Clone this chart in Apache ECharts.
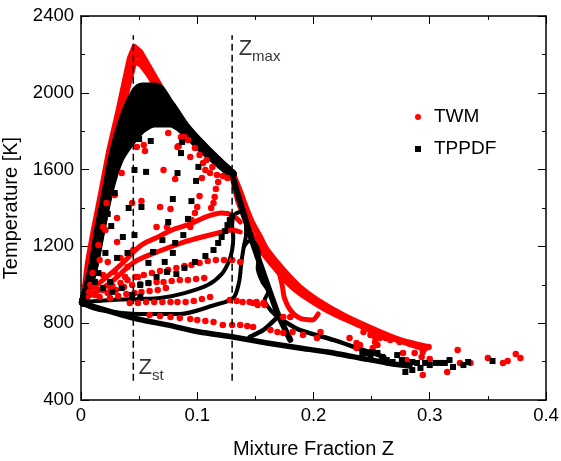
<!DOCTYPE html>
<html><head><meta charset="utf-8">
<script src="https://cdn.jsdelivr.net/npm/echarts@6/dist/echarts.min.js"></script>
<style>html,body{margin:0;padding:0;background:#fff}#c{width:561px;height:461px}</style>
</head><body><div id="c"></div>
<script>
const FONT = '"Liberation Sans", Arial, Helvetica, sans-serif';
const xTicks = [0, 0.1, 0.2, 0.3, 0.4];
const yTicks = [400, 800, 1200, 1600, 2000, 2400];
const legendNames = ['TWM', 'TPPDF'];

// ---- TWM (red) dense trajectories ----
const twmEnvA = [[0.002,921],[0.006,1119],[0.011,1285],[0.017,1468],[0.024,1692],[0.032,1900],[0.037,2041],[0.042,2181],[0.046,2239],[0.051,2213],[0.059,2129],[0.068,2035],[0.077,1947],[0.087,1858]];
const twmEnvM = [[0.003,921],[0.008,1119],[0.013,1285],[0.019,1468],[0.026,1692],[0.034,1900],[0.039,2030],[0.043,2150],[0.046,2202],[0.052,2181],[0.059,2108],[0.068,2015]];
const twmEnvB = [[0.005,921],[0.009,1119],[0.015,1285],[0.021,1468],[0.028,1692],[0.035,1900],[0.040,2025],[0.044,2119],[0.046,2166],[0.052,2145],[0.059,2088],[0.066,2015]];
const twmRight1 = [[0.130,1588],[0.137,1483],[0.141,1416],[0.147,1327],[0.154,1249],[0.160,1181],[0.174,1077],[0.188,989],[0.203,921],[0.225,843],[0.249,775],[0.274,713],[0.298,676]];
const twmRight2 = [[0.131,1546],[0.135,1442],[0.141,1348],[0.148,1249],[0.156,1171],[0.167,1088],[0.180,999],[0.193,937],[0.210,874],[0.231,812],[0.257,744],[0.283,692],[0.296,666]];
const twmLoop = [[0.152,1249],[0.161,1155],[0.169,1088],[0.173,999],[0.175,931],[0.180,869],[0.188,827],[0.199,817],[0.204,848]];
const twmFanA = [[0.006,963],[0.021,1035],[0.034,1103],[0.052,1207],[0.068,1254],[0.078,1285],[0.094,1317],[0.107,1353],[0.121,1374],[0.130,1364],[0.137,1327]];
const twmFanB = [[0.006,937],[0.025,1009],[0.046,1119],[0.070,1181],[0.089,1223],[0.104,1249],[0.118,1270],[0.130,1285],[0.137,1275]];

// ---- TWM (red) scattered points ----
const twmUpper = [[0.075,1791],[0.086,1770],[0.084,1723],[0.055,1697],[0.054,1728],[0.048,1718],[0.035,1582],[0.071,1598],[0.081,1551],[0.105,1634],[0.107,1598],[0.104,1556],[0.094,1666],[0.117,1572],[0.118,1535],[0.116,1499],[0.115,1457],[0.114,1426],[0.112,1400],[0.102,1462],[0.100,1405],[0.098,1374],[0.095,1337],[0.094,1301],[0.052,1436],[0.044,1426],[0.068,1405],[0.077,1395],[0.031,1348],[0.065,1301],[0.074,1301],[0.019,1301],[0.029,1468],[0.022,1426],[0.083,1718],[0.089,1770],[0.126,1556],[0.122,1567],[0.111,1582]];
const twmEdge = [[0.092,1754],[0.098,1712],[0.102,1676],[0.108,1650],[0.113,1614]];
const twmWedge = [[0.021,1285],[0.031,1223],[0.015,1207],[0.023,1119],[0.016,1129],[0.010,1061],[0.019,1051],[0.029,1067],[0.025,989],[0.038,1041],[0.049,1041],[0.015,973],[0.040,1093],[0.008,999],[0.034,1140],[0.045,1181]];
const twmRowC = [[0.012,947],[0.019,973],[0.027,994],[0.034,1009],[0.040,1025],[0.047,1041],[0.054,1051],[0.061,1061],[0.068,1072],[0.075,1077],[0.082,1088],[0.089,1098],[0.095,1103],[0.102,1114],[0.109,1124],[0.116,1129],[0.123,1129],[0.130,1129],[0.137,1119]];
const twmRowD = [[0.016,937],[0.023,957],[0.030,973],[0.037,989],[0.044,999],[0.051,1004],[0.058,1009],[0.065,1015],[0.071,1015],[0.078,1020],[0.085,1025],[0.092,1025],[0.099,1030],[0.106,1035]];
const twmRowE = [[0.025,931],[0.032,942],[0.039,952],[0.046,957],[0.052,963],[0.059,968],[0.066,973],[0.073,983]];
const twmRowF = [[0.042,905],[0.049,905],[0.056,910],[0.063,910],[0.070,910],[0.077,910],[0.083,910],[0.090,910],[0.097,916],[0.104,926],[0.111,937],[0.128,921],[0.134,916],[0.139,910],[0.145,910],[0.151,910]];
const twmRowG = [[0.059,843],[0.068,838],[0.077,832],[0.085,827],[0.094,822],[0.100,817],[0.107,812],[0.114,806],[0.122,791],[0.130,791],[0.137,791],[0.143,785],[0.148,780]];
const twmTail = [[0.148,905],[0.152,895],[0.157,905],[0.174,832],[0.163,765],[0.169,754],[0.174,749],[0.182,754],[0.191,739],[0.203,723],[0.231,723],[0.237,697],[0.158,895],[0.180,832],[0.206,754],[0.243,754],[0.249,739],[0.253,728],[0.257,723],[0.262,723],[0.266,713],[0.253,702],[0.255,687],[0.274,702],[0.283,692],[0.292,681],[0.299,676],[0.277,645],[0.287,645],[0.294,650],[0.293,624],[0.324,660],[0.300,613],[0.315,546],[0.294,530],[0.326,593],[0.335,593],[0.350,619],[0.363,593],[0.367,603],[0.374,639],[0.378,619],[0.240,687],[0.237,671],[0.251,671],[0.280,608]];

// ---- TPPDF (black) dense trajectories ----
const tpBand1 = [[0.002,910],[0.0095,1077],[0.0151,1285],[0.0219,1494],[0.0267,1650],[0.0328,1795],[0.0422,1952],[0.0525,2030],[0.0637,2030],[0.0766,1942],[0.0895,1827],[0.1024,1739],[0.1153,1660],[0.130,1577]];
const tpBand2 = [[0.002,910],[0.0096,1077],[0.0155,1285],[0.0225,1494],[0.0279,1650],[0.0347,1784],[0.0422,1911],[0.0525,1986],[0.0637,1993],[0.0766,1922],[0.0895,1821],[0.1024,1734],[0.1153,1658],[0.130,1577]];
const tpBand3 = [[0.002,910],[0.0098,1077],[0.0159,1285],[0.0230,1494],[0.0291,1650],[0.0365,1773],[0.0422,1871],[0.0525,1943],[0.0637,1955],[0.0766,1902],[0.0895,1815],[0.1024,1730],[0.1153,1656],[0.130,1577]];
const tpBand4 = [[0.002,910],[0.0100,1077],[0.0163,1285],[0.0235,1494],[0.0303,1650],[0.0384,1761],[0.0422,1830],[0.0525,1899],[0.0637,1918],[0.0766,1882],[0.0895,1808],[0.1024,1726],[0.1153,1654],[0.130,1577]];
const tpBand5 = [[0.002,910],[0.0102,1077],[0.0168,1285],[0.0240,1494],[0.0315,1650],[0.0402,1751],[0.0422,1790],[0.0525,1855],[0.0637,1880],[0.0766,1862],[0.0895,1802],[0.1024,1722],[0.1153,1652],[0.130,1577]];
const tpBand6 = [[0.002,910],[0.0103,1077],[0.0172,1285],[0.0245,1494],[0.0327,1650],[0.0421,1739],[0.0525,1811],[0.0637,1843],[0.0766,1843],[0.0895,1796],[0.1024,1718],[0.1153,1650],[0.130,1577]];
const tpRight = [[0.130,1577],[0.135,1468],[0.141,1348],[0.147,1233],[0.152,1145],[0.158,1041],[0.164,937],[0.169,853],[0.175,775],[0.180,713]];
const tpLow = [[0.001,905],[0.045,827],[0.074,791],[0.102,754],[0.131,728],[0.160,697],[0.188,671],[0.212,650],[0.240,619],[0.263,593],[0.283,577]];
const tpV1 = [[0.169,832],[0.188,765],[0.217,713],[0.240,666],[0.261,624]];
const tpV2 = [[0.169,832],[0.157,765],[0.145,728]];
const tpK3 = [[0.003,910],[0.027,921],[0.051,926],[0.068,931],[0.089,957],[0.109,999],[0.121,1056],[0.127,1119],[0.130,1181],[0.131,1249],[0.130,1311],[0.132,1364],[0.137,1379],[0.141,1353],[0.142,1306]];
const tpK4 = [[0.142,1306],[0.142,1265],[0.140,1197],[0.138,1119],[0.136,1015],[0.131,931],[0.115,895],[0.085,848],[0.051,848],[0.016,869],[0.003,895]];
const tpK6 = [[0.140,1197],[0.145,1228],[0.150,1213],[0.153,1155],[0.152,1088],[0.156,1015],[0.161,963],[0.158,921],[0.163,869],[0.169,832]];

// ---- TPPDF (black) scattered points ----
const tpInner = [[0.050,1759],[0.060,1749],[0.087,1744],[0.086,1686],[0.046,1598],[0.056,1588],[0.083,1582],[0.099,1541],[0.101,1614],[0.079,1447],[0.095,1436],[0.041,1400],[0.052,1405],[0.075,1327],[0.092,1343],[0.023,1369],[0.029,1478],[0.026,1306],[0.031,1634]];
const tpWedge = [[0.046,1259],[0.036,1249],[0.021,1166],[0.031,1140],[0.040,1166],[0.058,1114],[0.062,1171],[0.072,1119],[0.079,1166],[0.081,1218],[0.088,1259],[0.070,1233],[0.065,1041],[0.074,1067],[0.051,999],[0.058,1009],[0.044,947],[0.051,937],[0.035,983],[0.025,1015],[0.015,1061],[0.012,1015],[0.019,983],[0.027,963]];
const tpDiag = [[0.082,1056],[0.089,1088],[0.098,1119],[0.107,1150],[0.114,1181],[0.118,1218],[0.121,1249],[0.124,1280],[0.126,1311],[0.128,1337],[0.130,1358]];
const tpTail = [[0.242,645],[0.246,645],[0.250,650],[0.255,645],[0.259,624],[0.263,608],[0.268,598],[0.272,634],[0.276,608],[0.280,582],[0.285,598],[0.289,593],[0.279,546],[0.285,556],[0.292,567],[0.296,593],[0.300,582],[0.305,593],[0.309,593],[0.313,593],[0.317,608],[0.320,572],[0.329,582],[0.333,598],[0.354,603],[0.249,624]];

// ---- reference lines & labels ----
const zstLine = [[0.045,500],[0.045,2300]];
const zmaxLine = [[0.13,500],[0.13,2300]];
const zmaxLabelAt = [[0.1352,2218]];
const zstLabelAt = [[0.049,556]];

const RED = '#ff0000', BLK = '#000000';
function lineS(name, data, color, width, z, smooth) {
  return {type:'line', name:name, data:data, showSymbol:false, symbol:'none', smooth:smooth||0,
    lineStyle:{color:color, width:width, join:'round', cap:'round', opacity:1}, itemStyle:{color:color}, z:z, silent:true, animation:false};
}
const series = [
  {type:'scatter', name:'TWM', symbol:'circle', symbolSize:6.5, itemStyle:{color:RED, opacity:1}, z:4, animation:false,
    data:[].concat(twmUpper, twmEdge, twmWedge, twmRowC, twmRowD, twmRowE, twmRowF, twmRowG, twmTail)},
  {type:'scatter', name:'TPPDF', symbol:'rect', symbolSize:6, itemStyle:{color:BLK, opacity:1}, z:5, animation:false,
    data:[].concat(tpInner, tpWedge, tpDiag, tpTail)},
  lineS('twmA', twmEnvA, RED, 6, 2), lineS('twmM', twmEnvM, RED, 6, 2), lineS('twmB', twmEnvB, RED, 6, 2),
  lineS('twmR1', twmRight1, RED, 6, 2, 0.3), lineS('twmR2', twmRight2, RED, 6, 2, 0.3), lineS('twmL', twmLoop, RED, 5, 2, 0.3),
  lineS('twmFA', twmFanA, RED, 5, 4, 0.3), lineS('twmFB', twmFanB, RED, 5, 4, 0.3),
  lineS('tp1', tpBand1, BLK, 9, 3, 0.35), lineS('tp2', tpBand2, BLK, 9, 3, 0.35), lineS('tp3', tpBand3, BLK, 9, 3, 0.35),
  lineS('tp4', tpBand4, BLK, 9, 3, 0.35), lineS('tp5', tpBand5, BLK, 9, 3, 0.35), lineS('tp6', tpBand6, BLK, 9, 3, 0.35),
  lineS('tpR', tpRight, BLK, 6, 3, 0.2), lineS('tpLow', tpLow, BLK, 5.5, 3, 0.2),
  lineS('tpV1', tpV1, BLK, 4.5, 3, 0.2), lineS('tpV2', tpV2, BLK, 4.5, 3, 0.2),
  lineS('tpK3', tpK3, BLK, 4, 3, 0.3), lineS('tpK4', tpK4, BLK, 4, 3, 0.3), lineS('tpK6', tpK6, BLK, 4, 3, 0.3),
  {type:'line', name:'zst', data:zstLine, symbol:'none', lineStyle:{color:BLK, width:1.5, type:[7,4]}, z:6, silent:true, animation:false},
  {type:'line', name:'zmax', data:zmaxLine, symbol:'none', lineStyle:{color:BLK, width:1.5, type:[7,4]}, z:6, silent:true, animation:false},
  {type:'scatter', name:'lblmax', data:zmaxLabelAt, symbolSize:1, itemStyle:{color:'rgba(0,0,0,0)'}, z:7, silent:true, animation:false,
    label:{show:true, position:'right', distance:0, formatter:'{z|Z}{s|max}',
      rich:{z:{fontSize:22, fontFamily:FONT, color:BLK, lineHeight:26, verticalAlign:'top'}, s:{fontSize:15, fontFamily:FONT, color:BLK, lineHeight:15, verticalAlign:'bottom'}}}},
  {type:'scatter', name:'lblst', data:zstLabelAt, symbolSize:1, itemStyle:{color:'rgba(0,0,0,0)'}, z:7, silent:true, animation:false,
    label:{show:true, position:'right', distance:0, formatter:'{z|Z}{s|st}',
      rich:{z:{fontSize:22, fontFamily:FONT, color:BLK, lineHeight:26, verticalAlign:'top'}, s:{fontSize:15, fontFamily:FONT, color:BLK, lineHeight:15, verticalAlign:'bottom'}}}}
];

const axisCommon = {
  axisLine:{show:true, onZero:false, lineStyle:{color:BLK, width:1.5}},
  axisTick:{show:true, inside:true, length:8, lineStyle:{color:BLK, width:1}},
  minorTick:{show:true, splitNumber:2, length:4, lineStyle:{color:BLK, width:1}},
  splitLine:{show:false}
};
const option = {
  backgroundColor:'#fff',
  animation:false,
  grid:{left:81, right:15, top:16, bottom:61, containLabel:false, outerBoundsMode:'none'},
  legend:{data:[{name:legendNames[0], icon:'circle'},{name:legendNames[1], icon:'rect'}], orient:'vertical', left:410, top:102,
    itemWidth:6, itemHeight:6, itemGap:12, selectedMode:false,
    textStyle:{fontSize:19, fontFamily:FONT, color:BLK, padding:[0,0,0,8], lineHeight:20}},
  xAxis:[
    Object.assign({type:'value', position:'bottom', min:xTicks[0], max:xTicks[xTicks.length-1], interval:0.1,
      name:'Mixture Fraction Z', nameLocation:'middle', nameGap:39,
      nameTextStyle:{fontSize:20, fontFamily:FONT, color:BLK},
      axisLabel:{fontSize:18.5, fontFamily:FONT, color:BLK, margin:6, formatter:function(v){return String(+v.toFixed(1));}}}, axisCommon),
    Object.assign({type:'value', position:'top', min:xTicks[0], max:xTicks[xTicks.length-1], interval:0.1,
      axisLabel:{show:false}}, axisCommon)
  ],
  yAxis:[
    Object.assign({type:'value', position:'left', min:yTicks[0], max:yTicks[yTicks.length-1], interval:400,
      name:'Temperature [K]', nameLocation:'middle', nameGap:54, nameRotate:90,
      nameTextStyle:{fontSize:20, fontFamily:FONT, color:BLK},
      axisLabel:{fontSize:18.5, fontFamily:FONT, color:BLK, margin:7, formatter:function(v){return String(v);}}}, axisCommon),
    Object.assign({type:'value', position:'right', min:yTicks[0], max:yTicks[yTicks.length-1], interval:400,
      axisLabel:{show:false}}, axisCommon)
  ],
  series: series
};
const chart = echarts.init(document.getElementById('c'), null, {renderer:'canvas'});
chart.setOption(option);
</script>
</body></html>
